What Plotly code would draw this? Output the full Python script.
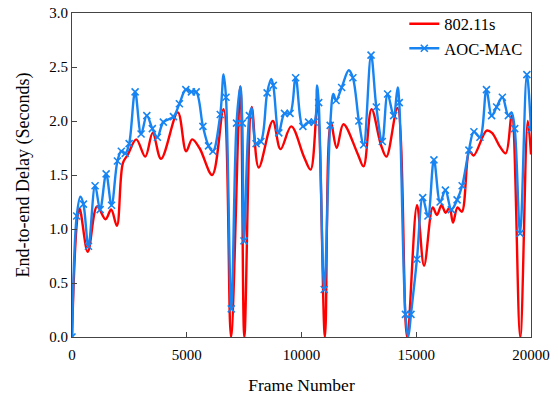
import plotly.graph_objects as go

# ---- data ----
red_x = [0, 323, 687, 1093, 1460, 1706, 1955, 2217, 2436, 2800, 3193, 3516, 3880, 4610,
         4973, 5236, 5555, 6110, 6605, 6928, 7335, 7510, 7830, 8136, 8748, 9085, 9553,
         10105, 10397, 10690, 11022, 11272, 11534, 11827, 12440, 12702, 13052, 13460,
         13700, 14180, 14600, 15033, 15340, 15720, 15900, 16100, 16280, 16450, 16600,
         16800, 16990, 17320, 17500, 18065, 18300, 18650, 18900, 19160, 19530, 19860, 20000]
red_y = [0.0, 1.19, 0.79, 1.21, 1.09, 1.18, 1.03, 1.61, 1.69, 1.83, 1.67, 1.89, 1.65, 2.08,
         1.72, 1.83, 1.75, 1.50, 2.11, 0.0, 2.32, 0.0, 2.13, 1.57, 2.00, 1.74, 1.95,
         1.67, 1.55, 2.13, 0.0, 1.99, 1.75, 1.97, 1.70, 1.58, 2.11, 1.78,
         1.67, 2.12, 0.0, 1.22, 0.66, 1.20, 1.13, 1.22, 1.15, 1.20, 1.06,
         1.20, 1.16, 1.72, 1.68, 1.91, 1.89, 1.76, 1.70, 2.05, 0.0, 2.00, 1.69]

# AOC-MAC points carrying a marker
blue_mark_x = [0, 205, 498, 717, 1006, 1225, 1488, 1723, 1980, 2150, 2320, 2490, 2750, 3010,
               3260, 3500, 3720, 3980, 4420, 4680, 4960, 5205, 5410, 5705, 5950, 6140, 6460,
               6710, 6941, 7170, 7420, 7495, 7730, 8022, 8230, 8503, 8770, 9011, 9260, 9500,
               9745, 10060, 10310, 10550, 10750, 10990, 11250, 11505, 11750, 12240, 12500,
               12710, 13030, 13260, 13520, 13752, 14014, 14260, 14530, 14771, 15030, 15282,
               15510, 15770, 16040, 16270, 16530, 16780, 17000, 17295, 17513, 17775, 18060,
               18284, 18503, 18752, 19014, 19290, 19525, 19820, 20000]
blue_mark_y = [0.0, 1.12, 1.23, 0.84, 1.40, 1.18, 1.51, 1.22, 1.63, 1.72, 1.70, 1.79, 2.27, 1.88,
               2.05, 1.93, 1.85, 1.99, 2.04, 2.16, 2.29, 2.27, 2.27, 1.95, 1.77, 1.72, 2.06,
               2.22, 0.26, 1.98, 1.98, 0.89, 2.05, 1.79, 1.81, 2.26, 2.33, 1.89, 2.07, 2.07,
               2.40, 1.95, 1.99, 1.99, 2.17, 0.44, 1.96, 2.19, 2.31, 2.40, 2.00,
               1.78, 2.61, 2.13, 1.81, 2.25, 2.05, 2.17, 0.21, 0.21, 0.72, 1.29,
               1.12, 1.64, 1.25, 1.36, 1.18, 1.27, 1.40, 1.73, 1.90, 1.85, 2.29,
               2.05, 2.13, 2.22, 2.05, 1.93, 0.96, 2.43, 1.92]

# AOC-MAC curve extrema between markers (no marker drawn)
blue_peak_x = [367, 6605, 7335, 7830, 8678, 10673, 11390, 12060, 14190, 14650, 19150]
blue_peak_y = [1.30, 2.43, 2.32, 2.12, 2.39, 2.33, 2.25, 2.47, 2.31, 0.0, 2.08]

blue_line = sorted(zip(blue_mark_x + blue_peak_x, blue_mark_y + blue_peak_y))
blue_line_x = [p[0] for p in blue_line]
blue_line_y = [p[1] for p in blue_line]

RED = "#ff0000"
BLUE = "#1784f2"
FONT = "Liberation Serif, Times New Roman, serif"

fig = go.Figure()
fig.add_trace(go.Scatter(x=red_x, y=red_y, mode="lines", name="802.11s",
                         line=dict(color=RED, width=2.4, shape="spline", smoothing=1.0)))
fig.add_trace(go.Scatter(x=blue_line_x, y=blue_line_y, mode="lines", showlegend=False,
                         line=dict(color=BLUE, width=2.4, shape="spline", smoothing=1.0)))
fig.add_trace(go.Scatter(x=blue_mark_x, y=blue_mark_y, mode="markers", showlegend=False,
                         marker=dict(symbol="x-thin", size=7, line=dict(color=BLUE, width=1.6))))
fig.add_trace(go.Scatter(x=[None], y=[None], mode="lines+markers", name="AOC-MAC",
                         line=dict(color=BLUE, width=2.4),
                         marker=dict(symbol="x-thin", size=7, line=dict(color=BLUE, width=1.6))))

axis_common = dict(showline=True, linecolor="#444444", linewidth=1.2, mirror=True,
                   ticks="inside", ticklen=5, tickcolor="#444444", showgrid=False,
                   zeroline=False, ticklabeloverflow="allow", automargin=False,
                   tickfont=dict(family=FONT, size=15, color="black"))

fig.update_layout(
    width=558, height=395,
    margin=dict(l=72, r=27, t=7, b=58),
    plot_bgcolor="white", paper_bgcolor="white",
    font=dict(family=FONT, color="black"),
    xaxis=dict(range=[0, 20000], tickvals=[0, 5000, 10000, 15000, 20000],
               ticktext=["0", "5000", "10000", "15000", "20000"],
               ticklabelstandoff=4,
               title=dict(text="Frame Number", font=dict(family=FONT, size=17.5), standoff=18),
               **axis_common),
    yaxis=dict(range=[0, 3.0], tickvals=[0, 0.5, 1.0, 1.5, 2.0, 2.5, 3.0],
               ticktext=["0.0", "0.5", "1.0", "1.5", "2.0", "2.5", "3.0"],
               title=dict(text="End-to-end Delay (Seconds)", font=dict(family=FONT, size=18), standoff=14),
               **axis_common),
    legend=dict(x=0.724, y=1.02, xanchor="left", yanchor="top", bgcolor="rgba(0,0,0,0)",
                font=dict(family=FONT, size=16.5), tracegroupgap=0),
)

fig.write_html("out.html")
